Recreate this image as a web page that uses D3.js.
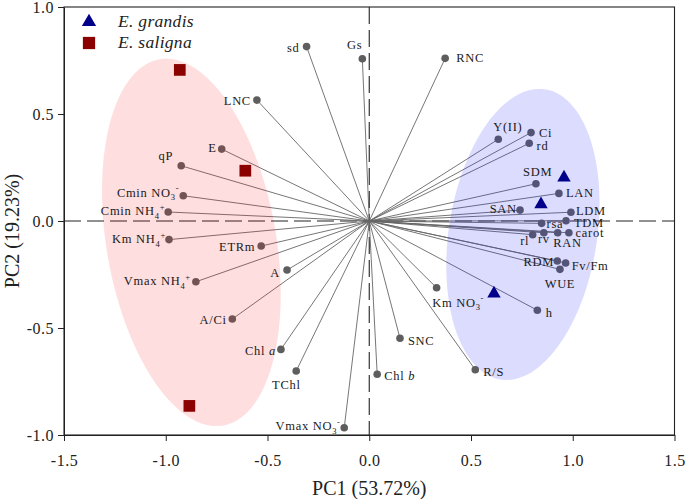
<!DOCTYPE html>
<html>
<head>
<meta charset="utf-8">
<script src="https://cdn.jsdelivr.net/npm/d3@7"></script>
<style>
  body { margin: 0; background: #fff; }
  text { font-family: "Liberation Serif", "Times New Roman", serif; }
</style>
</head>
<body>
<svg id="pca" width="685" height="499"></svg>
<script>
// tick values
const pc1Ticks = [-1.5, -1.0, -0.5, 0.0, 0.5, 1.0, 1.5];
const pc2Ticks = [-1.0, -0.5, 0.0, 0.5, 1.0];

// sample scores
const grandisPC1 = [0.957, 0.844, 0.613];
const grandisPC2 = [0.203, 0.078, -0.339];
const salignaPC1 = [-0.931, -0.609, -0.884];
const salignaPC2 = [0.706, 0.235, -0.864];

// variable loadings
const varNames = ["sd", "Gs", "RNC", "LNC", "E", "qP", "Cmin NO3-", "Cmin NH4+", "Km NH4+", "ETRm",
  "Vmax NH4+", "A", "A/Ci", "Chl a", "TChl", "Vmax NO3-", "Chl b", "SNC", "R/S", "Km NO3-", "h",
  "Y(II)", "Ci", "rd", "SDM", "LAN", "SAN", "LDM", "TDM", "rsa", "rl", "rv", "RAN", "carot", "RDM",
  "Fv/Fm", "WUE"];
const varPC1 = [-0.308, -0.034, 0.373, -0.552, -0.725, -0.924, -0.914, -0.988, -0.984, -0.531,
  -0.852, -0.404, -0.673, -0.434, -0.359, -0.123, 0.039, 0.151, 0.521, 0.331, 0.826,
  0.634, 0.795, 0.786, 0.819, 0.932, 0.741, 0.991, 0.967, 0.847, 0.803, 0.858, 0.926, 0.981, 0.924,
  0.965, 0.937];
const varPC2 = [0.815, 0.758, 0.760, 0.565, 0.336, 0.258, 0.118, 0.042, -0.087, -0.117,
  -0.284, -0.229, -0.458, -0.600, -0.701, -0.966, -0.716, -0.548, -0.695, -0.312, -0.417,
  0.382, 0.413, 0.363, 0.174, 0.129, 0.051, 0.041, 0.001, -0.011, -0.064, -0.055, -0.055, -0.055, -0.187,
  -0.196, -0.226];

// group ellipses (centre, semi axes, tilt in degrees)
const ellipseGroup = ["E. grandis", "E. saligna"];
const ellipseCx = [0.755, -0.874];
const ellipseCy = [-0.063, -0.100];
const ellipseA = [0.687, 0.870];
const ellipseB = [0.364, 0.416];
const ellipseTilt = [-9.5, 10.6];

// label placement: [dx, dy, anchor]
const labelPlace = {
  "sd": [-7, 5, "end"], "Gs": [0, -9.5, "end"], "RNC": [11, 3.5, "start"], "LNC": [-6, 5, "end"],
  "E": [-5, 3, "end"], "qP": [-8, -6, "end"], "Cmin NO3-": [-4, 1, "end"], "Cmin NH4+": [-3, 3, "end"],
  "Km NH4+": [-3, 3.6, "end"], "ETRm": [-6, 4.7, "end"], "Vmax NH4+": [-5, 3.3, "end"], "A": [-7, 6.5, "end"],
  "A/Ci": [-5.6, 5.3, "end"], "Chl a": [-5, 5.7, "end"], "TChl": [4.4, 18.3, "end"], "Vmax NO3-": [-3.6, 2.3, "end"],
  "Chl b": [7, 5.7, "start"], "SNC": [8, 6.7, "start"], "R/S": [8, 6, "start"], "Km NO3-": [-4.4, 19, "start"],
  "h": [8.4, 7, "start"], "Y(II)": [-5, -8, "start"], "Ci": [8, 4.7, "start"], "rd": [7.4, 6.7, "start"],
  "SDM": [1.7, -8, "middle"], "LAN": [7, 4, "start"], "SAN": [-3.3, 3.3, "end"], "LDM": [5, 2.7, "start"],
  "TDM": [8, 6, "start"], "rsa": [5, 5, "start"], "rl": [-3.4, 10, "end"], "rv": [0, 10.6, "middle"],
  "RAN": [-4.4, 14.6, "start"], "carot": [6.7, 4, "start"], "RDM": [-3.3, 5, "end"], "Fv/Fm": [6, 7, "start"],
  "WUE": [0, 19, "middle"]
};

const svg = d3.select("#pca");
const x = d3.scaleLinear().domain([-1.5, 1.5]).range([64, 674.5]);
const y = d3.scaleLinear().domain([-1, 1]).range([435, 7]);
const fmt = d => d.toFixed(1);

// zero lines
svg.append("line")
  .attr("x1", x(0)).attr("x2", x(0)).attr("y1", y(1)).attr("y2", y(-1))
  .attr("stroke", "#222").attr("stroke-width", 1.1).attr("stroke-dasharray", "17,6");
svg.append("line")
  .attr("x1", x(-1.5)).attr("x2", x(1.5)).attr("y1", y(0)).attr("y2", y(0))
  .attr("stroke", "#222").attr("stroke-width", 1.1).attr("stroke-dasharray", "17,6");

// vectors
const vars = varNames.map((n, i) => ({ name: n, pc1: varPC1[i], pc2: varPC2[i] }));
svg.append("g").selectAll("line").data(vars).join("line")
  .attr("x1", x(0)).attr("y1", y(0))
  .attr("x2", d => x(d.pc1)).attr("y2", d => y(d.pc2))
  .attr("stroke", "#666").attr("stroke-width", 0.9);
svg.append("g").selectAll("circle").data(vars).join("circle")
  .attr("cx", d => x(d.pc1)).attr("cy", d => y(d.pc2))
  .attr("r", 3.8).attr("fill", "#5e5e5e");

// ellipses
const ellColors = ["rgba(40,40,255,0.16)", "rgba(250,20,20,0.14)"];
ellipseGroup.forEach((g, k) => {
  const th = ellipseTilt[k] * Math.PI / 180;
  const pts = d3.range(0, 361, 3).map(deg => {
    const t = deg * Math.PI / 180;
    const bx = ellipseB[k] * Math.cos(t), ay = ellipseA[k] * Math.sin(t);
    return [x(ellipseCx[k] + bx * Math.cos(th) - ay * Math.sin(th)),
            y(ellipseCy[k] + bx * Math.sin(th) + ay * Math.cos(th))];
  });
  svg.append("path").attr("d", d3.line()(pts) + "Z")
    .attr("fill", ellColors[k]).attr("stroke", "none");
});

// labels
const lab = svg.append("g").attr("font-size", "12.5px").attr("fill", "#1a1a1a")
  .attr("letter-spacing", "0.7px");
vars.forEach(d => {
  const p = labelPlace[d.name];
  const t = lab.append("text")
    .attr("x", x(d.pc1) + p[0]).attr("y", y(d.pc2) + p[1])
    .attr("text-anchor", p[2]);
  let m = d.name.match(/^(.*N[OH])([34])([+-])$/);
  let c = d.name.match(/^(Chl )([ab])$/);
  if (m) {
    t.append("tspan").text(m[1]);
    t.append("tspan").attr("font-size", "8.5px").attr("dy", 3.5).text(m[2]);
    t.append("tspan").attr("font-size", "8.5px").attr("dy", -9).text(m[3] === "-" ? "-" : "+");
  } else if (c) {
    t.append("tspan").text(c[1]);
    t.append("tspan").attr("font-style", "italic").text(c[2]);
  } else {
    t.text(d.name);
  }
});

// sample markers
const tri = d3.symbol().type(d3.symbolTriangle).size(78);
const sq = d3.symbol().type(d3.symbolSquare).size(137);
svg.append("g").selectAll("path").data(grandisPC1).join("path")
  .attr("d", tri)
  .attr("transform", (d, i) => `translate(${x(d)},${y(grandisPC2[i])})`)
  .attr("fill", "#00008b");
svg.append("g").selectAll("path").data(salignaPC1).join("path")
  .attr("d", sq)
  .attr("transform", (d, i) => `translate(${x(d)},${y(salignaPC2[i])})`)
  .attr("fill", "#8b0000");

// axes
const xAxis = svg.append("g").attr("transform", `translate(0,${y(-1)})`)
  .call(d3.axisBottom(x).tickValues(pc1Ticks).tickFormat(fmt).tickSize(6).tickSizeOuter(0).tickPadding(14));
const yAxis = svg.append("g").attr("transform", `translate(${x(-1.5)},0)`)
  .call(d3.axisLeft(y).tickValues(pc2Ticks).tickFormat(fmt).tickSize(6).tickSizeOuter(0).tickPadding(4));
[xAxis, yAxis].forEach(a => {
  a.selectAll("text").attr("font-family", "Liberation Serif, serif").attr("font-size", "16px")
    .attr("fill", "#222").attr("letter-spacing", "0.5px");
  a.selectAll("line").attr("stroke", "#222");
  a.select(".domain").attr("stroke", "#222");
});

// frame
svg.append("rect")
  .attr("x", x(-1.5)).attr("y", y(1))
  .attr("width", x(1.5) - x(-1.5)).attr("height", y(-1) - y(1))
  .attr("fill", "none").attr("stroke", "#222").attr("stroke-width", 1.1);

// axis titles
svg.append("text").attr("x", x(0)).attr("y", 495)
  .attr("text-anchor", "middle").attr("font-size", "20px").attr("fill", "#222")
  .text("PC1 (53.72%)");
svg.append("text").attr("transform", "translate(19,231) rotate(-90)")
  .attr("text-anchor", "middle").attr("font-size", "20px").attr("fill", "#222")
  .text("PC2 (19.23%)");

// legend
const leg = svg.append("g");
leg.append("path").attr("d", d3.symbol().type(d3.symbolTriangle).size(88)())
  .attr("transform", "translate(89,22)").attr("fill", "#00008b");
leg.append("path").attr("d", d3.symbol().type(d3.symbolSquare).size(150)())
  .attr("transform", "translate(89,43)").attr("fill", "#8b0000");
leg.append("text").attr("x", 118).attr("y", 27).attr("font-size", "17.5px")
  .attr("font-style", "italic").attr("fill", "#222").attr("letter-spacing", "0.3px").text(ellipseGroup[0]);
leg.append("text").attr("x", 118).attr("y", 48).attr("font-size", "17.5px")
  .attr("font-style", "italic").attr("fill", "#222").attr("letter-spacing", "0.3px").text(ellipseGroup[1]);
</script>
</body>
</html>
